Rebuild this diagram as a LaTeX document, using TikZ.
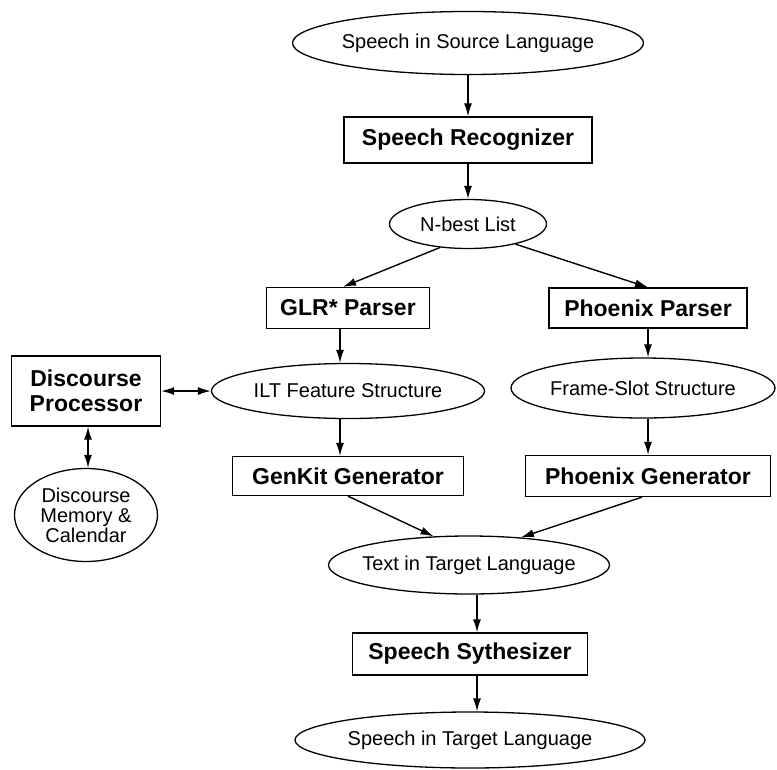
\documentclass[tikz,border=0pt]{standalone}
\usepackage{fontspec}
\setmainfont{Liberation Sans}
\usetikzlibrary{shapes.geometric,arrows.meta}
\begin{document}
\begin{tikzpicture}[x=1pt,y=-1pt,
  oval/.style={draw,line width=1.3pt,ellipse,inner xsep=-30pt,inner ysep=0pt,
    font=\fontsize{20}{20}\selectfont,align=center},
  boxnode/.style={draw,line width=1.3pt,rectangle,inner sep=0pt,
    font=\fontsize{23}{25}\selectfont\bfseries,align=center},
  arr/.style={line width=1.4pt,-{Latex[length=13pt,width=8pt]}},
  darr/.style={line width=1.4pt,{Latex[length=13pt,width=8pt]}-{Latex[length=13pt,width=8pt]}}
]
\useasboundingbox (0,0) rectangle (777,769);

\node[oval,minimum width=351pt,minimum height=63pt] (src) at (468,43) {Speech in Source Language};
\node[boxnode,minimum width=248pt,minimum height=46pt] (rec) at (468,140) {Speech Recognizer};
\node[oval,minimum width=157pt,minimum height=49pt] (nbest) at (468,224) {N-best List};
\node[boxnode,minimum width=163pt,minimum height=41pt] (glr) at (348,308) {GLR* Parser};
\node[boxnode,minimum width=198pt,minimum height=40pt] (phx) at (648,308) {Phoenix Parser};
\node[boxnode,minimum width=149pt,minimum height=70pt] (dp) at (86,391) {Discourse\\Processor};
\node[oval,minimum width=273pt,minimum height=55pt] (ilt) at (348,391) {ILT Feature Structure};
\node[oval,minimum width=264pt,minimum height=60pt] (frame) at (643,388) {Frame-Slot Structure};
\node[oval,minimum width=143pt,minimum height=93pt] (dm) at (86,515) {Discourse\\Memory \&\\Calendar};
\node[boxnode,minimum width=231pt,minimum height=39pt] (genkit) at (348,476) {GenKit Generator};
\node[boxnode,minimum width=245pt,minimum height=41pt] (phgen) at (648,476) {Phoenix Generator};
\node[oval,minimum width=281pt,minimum height=58pt] (tt) at (469,565) {Text in Target Language};
\node[boxnode,minimum width=235pt,minimum height=42pt] (syn) at (470,654) {Speech Sythesizer};
\node[oval,minimum width=350pt,minimum height=56pt] (st) at (470,740) {Speech in Target Language};

\draw[arr] (src.south) -- (rec.north);
\draw[arr] (rec.south) -- (nbest.north);
\draw[arr] (nbest.220) -- ([xshift=-5pt]glr.north);
\draw[arr] (nbest.337) -- (phx.north);
\draw[arr] ([xshift=-8pt]glr.south) -- ([xshift=-8pt]ilt.north);
\draw[arr] (phx.south) -- ([xshift=5pt]frame.north);
\draw[arr] ([xshift=-8pt]ilt.south) -- ([xshift=-8pt]genkit.north);
\draw[arr] ([xshift=5pt]frame.south) -- (phgen.north);
\draw[darr] (dp.east) -- (ilt.west);
\draw[darr] ([xshift=2pt]dp.south) -- ([xshift=2pt]dm.north);
\draw[arr] (genkit.south) -- (tt.141);
\draw[arr] ([xshift=-6pt]phgen.south) -- (tt.28);
\draw[arr] ([xshift=8pt]tt.south) -- ([xshift=7pt]syn.north);
\draw[arr] ([xshift=7pt]syn.south) -- ([xshift=7pt]st.north);
\end{tikzpicture}
\end{document}
